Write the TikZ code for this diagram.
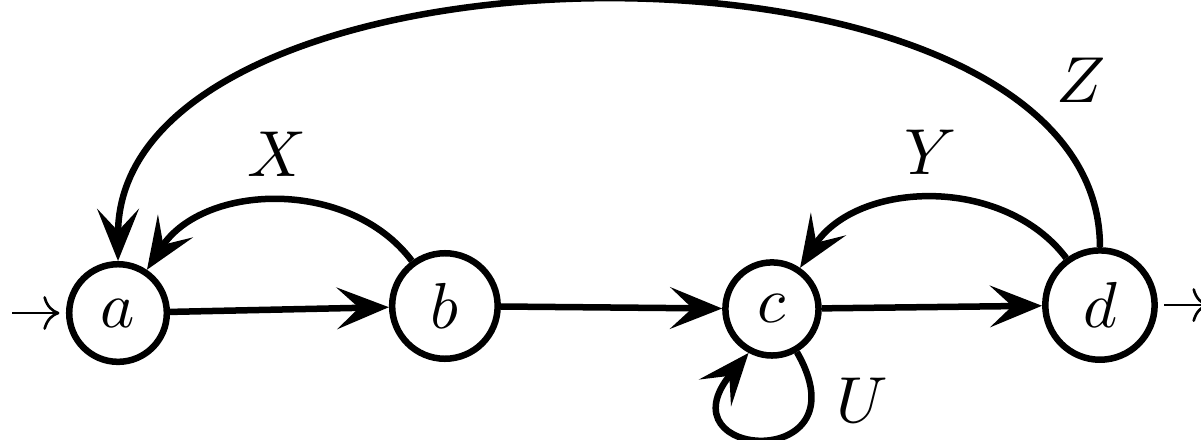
\documentclass[tikz,border=0pt]{standalone}
\usepackage{tikz}
\usetikzlibrary{arrows.meta, positioning}
\tikzset{
    stnode/.style={circle, draw, line width=1pt, inner sep=2.9pt},
    trans/.style={-{Stealth[length=8pt, width=6.4pt, inset=3.4pt]}, line width=1pt},
    entry/.style={-To, shorten >=1pt, shorten <=1pt}
}
\begin{document}
\begin{tikzpicture}
    \useasboundingbox (0,0) rectangle (6.492,2.373);
    \node[stnode] (a) at (0.638,0.681) {$a$};
    \node[stnode] (b) at (2.405,0.719) {$b$};
    \node[stnode] (c) at (4.173,0.703) {$c$};
    \node[stnode] (d) at (5.946,0.724) {$d$};
    \coordinate (in) at (0.032,0.681);
    \coordinate (out) at (6.568,0.724);

    \draw[entry] (in) -- (a);
    \draw[entry] (d) -- (out);
    \draw[trans] (a) -- (b);
    \draw[trans] (b) -- (c);
    \draw[trans] (c) -- (d);
    \draw[trans] (b) to[bend right=55] node[above] (lx) {$X$} (a);
    \draw[trans] (d) to[bend right=55] node[above] (ly) {$Y$} (c);
    \draw[trans] (d.90) to[out=90, in=90, looseness=0.876] node[above right, inner sep=2pt, pos=0.15] (lz) {$Z$} (a.90);
    \draw[trans] (c.-60) .. controls +(-60:0.757) and +(-130:0.757) .. node[right, pos=0.16] (lu) {$U$} (c.-118);
\end{tikzpicture}
\end{document}
